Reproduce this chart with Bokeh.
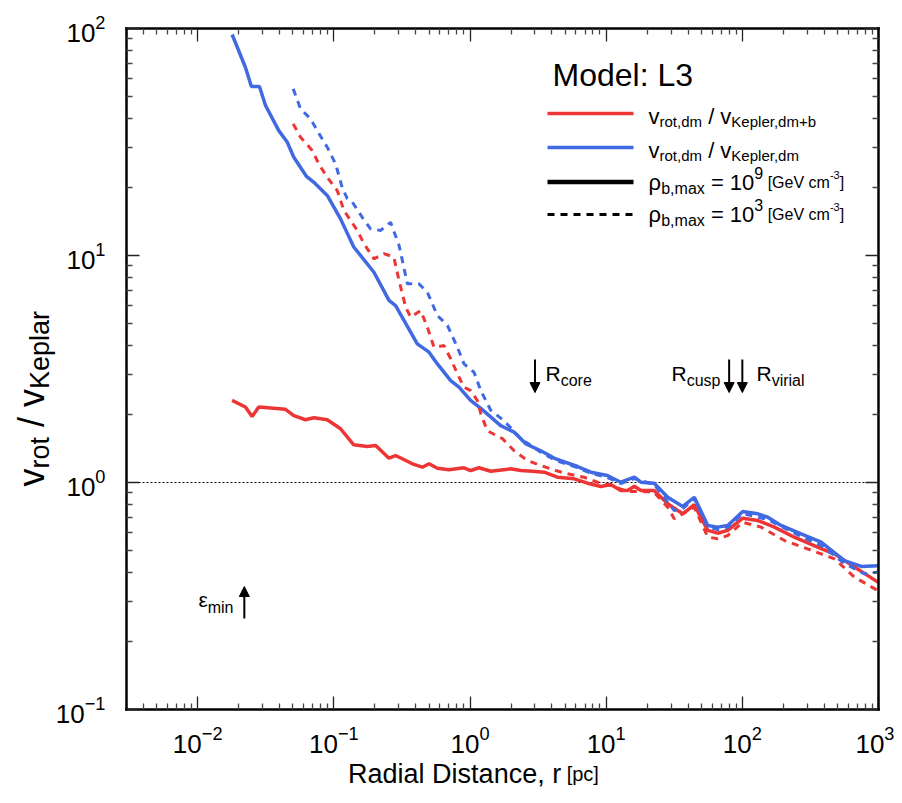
import math
from bokeh.plotting import figure
from bokeh.models import (LogAxis, FixedTicker, CustomJSTickFormatter, Label, Arrow,
                          NormalHead, Range1d)
from bokeh.embed import file_html
from bokeh.resources import INLINE

# ---------------- data ----------------
# rho_b,max = 1e9 : v_rot,dm / v_Kepler,dm  (blue solid)
r_dm_9 = [0.0179, 0.0224, 0.0248, 0.0284, 0.0315, 0.0394, 0.0454, 0.0508, 0.0630, 0.0713,
          0.0894, 0.112, 0.140, 0.197, 0.254, 0.284, 0.410, 0.500, 0.576, 0.721,
          0.830, 1.01, 1.20, 1.68, 2.11, 2.57, 3.31, 4.27, 6.16, 7.72,
          10.2, 12.8, 16.1, 18.0, 22.5, 28.3, 36.5, 44.4, 55.7, 65.9,
          78.1, 100.7, 129.8, 153.8, 192.6, 270, 379, 562, 746, 990]
v_dm_9 = [94.1, 67.5, 55.5, 55.5, 45.8, 35.5, 31.6, 27.1, 22.3, 21.0,
          18.4, 14.5, 10.9, 8.44, 6.34, 6.02, 4.08, 3.75, 3.33, 2.81,
          2.63, 2.30, 2.12, 1.78, 1.666, 1.48, 1.38, 1.27, 1.176, 1.11,
          1.073, 1.003, 1.055, 1.003, 0.993, 0.861, 0.784, 0.861, 0.647, 0.636,
          0.647, 0.745, 0.728, 0.703, 0.647, 0.594, 0.546, 0.453, 0.427, 0.430]

# rho_b,max = 1e9 : v_rot,dm / v_Kepler,dm+b  (red solid)
r_dmb_9 = [0.0179, 0.0224, 0.0251, 0.0281, 0.0441, 0.0508, 0.0619, 0.0713, 0.0894, 0.112,
           0.140, 0.176, 0.203, 0.254, 0.284, 0.377, 0.447, 0.500, 0.576, 0.701,
           0.903, 1.01, 1.165, 1.42, 1.99, 2.36, 2.88, 3.50, 4.39, 5.82,
           7.30, 9.14, 10.8, 12.8, 14.4, 16.1, 18.0, 22.5, 28.3, 36.5,
           44.4, 55.7, 65.9, 78.1, 100.7, 129.8, 172, 241, 379, 475, 666, 990]
v_dmb_9 = [2.30, 2.15, 1.953, 2.15, 2.10, 1.97, 1.89, 1.93, 1.89, 1.725,
           1.466, 1.441, 1.455, 1.28, 1.315, 1.209, 1.168, 1.209, 1.156, 1.137,
           1.161, 1.129, 1.161, 1.121, 1.149, 1.129, 1.121, 1.11, 1.055, 1.038,
           0.993, 0.960, 0.980, 0.922, 0.922, 0.963, 0.922, 0.922, 0.806, 0.728,
           0.798, 0.615, 0.598, 0.615, 0.696, 0.680, 0.636, 0.574, 0.511, 0.485, 0.424, 0.364]

# rho_b,max = 1e3 : v_rot,dm / v_Kepler,dm  (blue dashed)
r_dm_3 = [0.0503, 0.0569, 0.0674, 0.0755, 0.0894, 0.103, 0.115, 0.1255, 0.1366, 0.162,
          0.186, 0.221, 0.261, 0.301, 0.347, 0.422, 0.486, 0.576, 0.682, 0.808,
          0.903, 1.07, 1.20, 1.42, 1.77, 2.36, 3.31, 4.27, 6.16, 7.72,
          10.2, 12.8, 16.1, 22.5, 31.6, 36.5, 44.4, 55.7, 65.9, 78.1,
          100.7, 153.8, 270, 379, 562, 789, 990]
v_dm_3 = [54.2, 44.3, 40.0, 35.5, 30.0, 25.3, 20.0, 17.8, 17.2, 14.7,
          13.1, 12.9, 14.0, 11.1, 7.50, 7.50, 6.89, 5.44, 4.92, 3.94,
          3.33, 3.06, 2.54, 2.08, 1.875, 1.56, 1.36, 1.25, 1.164, 1.099,
          1.052, 0.99, 1.041, 0.98, 0.753, 0.768, 0.850, 0.634, 0.621, 0.634,
          0.730, 0.687, 0.578, 0.528, 0.440, 0.396, 0.403]

# rho_b,max = 1e3 : v_rot,dm / v_Kepler,dm+b  (red dashed)
r_dmb_3 = [0.0503, 0.0569, 0.0694, 0.0776, 0.0894, 0.106, 0.1185, 0.1486, 0.166, 0.197,
           0.233, 0.276, 0.301, 0.337, 0.366, 0.434, 0.486, 0.544, 0.644, 0.721,
           0.808, 0.903, 1.01, 1.13, 1.20, 1.34, 1.73, 2.11, 2.64, 3.31,
           4.27, 5.20, 6.89, 8.65, 10.8, 14.4, 18.0, 22.5, 28.3, 31.6,
           36.5, 44.4, 55.7, 65.9, 78.1, 100.7, 137, 204, 379, 475, 666, 990]
v_dmb_3 = [38.0, 33.2, 29.0, 25.3, 22.1, 19.3, 15.8, 12.9, 11.3, 9.67,
           10.2, 9.83, 7.76, 5.92, 5.35, 5.72, 4.83, 3.94, 4.01, 3.51,
           3.01, 2.63, 2.54, 2.30, 2.01, 1.69, 1.56, 1.38, 1.25, 1.188,
           1.129, 1.092, 1.055, 1.003, 0.97, 0.913, 0.913, 0.904, 0.778, 0.692,
           0.728, 0.778, 0.575, 0.565, 0.584, 0.668, 0.636, 0.555, 0.485, 0.461, 0.383, 0.334]

# marker radii (arrows)
R_core = 3.0
R_cusp = 80.0
R_virial = 100.0
eps_min = 0.022
arrow_down_top, arrow_down_bottom = 3.48, 2.49
arrow_up_bottom, arrow_up_top = 0.252, 0.348
ref_level = 1.0

# axis limits and ticks
XL, XR = 0.003, 1000.0
YB, YT = 0.1, 100.0
x_ticks = [1e-2, 1e-1, 1e0, 1e1, 1e2, 1e3]
y_ticks = [1e-1, 1e0, 1e1, 1e2]
x_minor = [t for t in (k * 10.0 ** d for d in range(-3, 3) for k in range(2, 10))
           if XL * 0.999 <= t <= XR]
y_minor = [t for t in (k * 10.0 ** d for d in range(-1, 2) for k in range(2, 10))
           if YB <= t <= YT]

RED = "#EE3535"
BLUE = "#4169E1"
FONT = "Liberation Sans"

# ---------------- layout (pixels) ----------------
W, H = 894, 795                 # canvas
BOX_L, BOX_R, BOX_T, BOX_B = 126, 878, 28, 709   # plot box in canvas pixels
TXT_FIX = 9                     # renderer places text ~9px below the requested baseline

pdx = (BOX_R - BOX_L) / math.log10(XR / XL)
pdy = (BOX_B - BOX_T) / math.log10(YT / YB)
x_start = XL / 10 ** (BOX_L / pdx)
x_end = XR * 10 ** ((W - BOX_R) / pdx)
y_end = YT * 10 ** (BOX_T / pdy)
y_start = YB / 10 ** ((H - BOX_B) / pdy)

p = figure(x_axis_type="log", y_axis_type="log",
           x_axis_location=None, y_axis_location=None,
           x_range=Range1d(x_start, x_end), y_range=Range1d(y_start, y_end),
           frame_width=W, frame_height=H, min_border=0,
           output_backend="svg", toolbar_location=None,
           background_fill_color="white", border_fill_color="white")
p.grid.visible = False
p.outline_line_color = None


def make_axis(ticks, minor, loc, bounds, show_labels):
    ax = LogAxis(fixed_location=loc, bounds=bounds)
    ax.ticker = FixedTicker(ticks=ticks, minor_ticks=minor)
    ax.axis_line_width = 2.5
    ax.axis_line_color = "black"
    ax.axis_line_cap = "square"
    ax.major_tick_in = 13
    ax.major_tick_out = 0
    ax.minor_tick_in = 6
    ax.minor_tick_out = 0
    ax.major_tick_line_width = 1.3
    ax.minor_tick_line_width = 1.3
    ax.major_tick_line_color = "#222222"
    ax.minor_tick_line_color = "#444444"
    if show_labels:
        ax.major_label_text_font = FONT
        ax.major_label_text_font_size = "26px"
        ax.major_label_text_color = "black"
    else:
        ax.formatter = CustomJSTickFormatter(code="return ''")
        ax.major_label_text_font_size = "1px"
    return ax


ax_b = make_axis(x_ticks, x_minor, YB, (XL, XR), True)
ax_b.major_label_standoff = 16
p.add_layout(ax_b, "below")
ax_l = make_axis(y_ticks, y_minor, XL, (YB, YT), True)
ax_l.major_label_standoff = 21
p.add_layout(ax_l, "left")
p.add_layout(make_axis(x_ticks, x_minor, YT, (XL, XR), False), "above")
p.add_layout(make_axis(y_ticks, y_minor, XR, (YB, YT), False), "right")

# reference line at 1
p.segment(x0=[XL], y0=[ref_level], x1=[XR], y1=[ref_level],
          line_color="black", line_width=1, line_dash="2 2")

# curves
p.line(r_dmb_9, v_dmb_9, line_color=RED, line_width=3.5)
p.line(r_dm_9, v_dm_9, line_color=BLUE, line_width=3.5)
p.line(r_dmb_3, v_dmb_3, line_color=RED, line_width=3, line_dash="7 6")
p.line(r_dm_3, v_dm_3, line_color=BLUE, line_width=3, line_dash="7 6")

# arrows
for xr in (R_core, R_cusp, R_virial):
    p.add_layout(Arrow(end=NormalHead(size=10, fill_color="black", line_color="black"),
                       x_start=xr, y_start=arrow_down_top, x_end=xr, y_end=arrow_down_bottom,
                       line_width=2, line_color="black"))
p.add_layout(Arrow(end=NormalHead(size=10, fill_color="black", line_color="black"),
                   x_start=eps_min, y_start=arrow_up_bottom, x_end=eps_min, y_end=arrow_up_top,
                   line_width=2, line_color="black"))

# ---------------- rich text helpers (canvas-pixel placement) ----------------
WID = {' ': 278, ',': 278, '/': 278, '+': 584, '=': 584, '-': 333, '[': 278, ']': 278,
       ':': 278, '.': 278, 'a': 556, 'b': 556, 'c': 500, 'd': 556, 'e': 556, 'i': 222,
       'l': 222, 'm': 833, 'n': 556, 'o': 556, 'p': 556, 'r': 333, 's': 500, 't': 278,
       'u': 556, 'v': 500, 'x': 500, 'y': 500, 'D': 722, 'G': 778, 'K': 667, 'L': 556,
       'M': 833, 'R': 722, 'V': 667, 'ρ': 578, 'ε': 440}


def tw(s, size):
    return sum(WID.get(c, 556) for c in s) * size / 1000.0


def rich(pieces, px, py, rotated=False):
    """px, py: canvas pixel of the baseline start (for rotated text: baseline x, start y)."""
    adv = 0.0
    for text, size, shift in pieces:
        lead = len(text) - len(text.lstrip(' '))
        body = text.strip(' ')
        off = tw(' ' * lead, size)
        if body:
            if not rotated:
                lab = Label(x=px + adv + off, y=H - (py + shift) + TXT_FIX,
                            x_units="screen", y_units="screen", text=body,
                            text_font=FONT, text_font_size=f"{size}px", text_color="black",
                            text_align="left", text_baseline="alphabetic")
            else:
                lab = Label(x=px + shift - TXT_FIX, y=H - (py - adv - off),
                            x_units="screen", y_units="screen", text=body, angle=math.pi / 2,
                            text_font=FONT, text_font_size=f"{size}px", text_color="black",
                            text_align="left", text_baseline="alphabetic")
            p.add_layout(lab)
        adv += tw(text, size)
    return adv


def seg(x0, x1, py, color, width, dash="solid"):
    p.add_layout(Arrow(end=None, x_start=x0, x_end=x1, y_start=H - py, y_end=H - py,
                       start_units="screen", end_units="screen",
                       line_color=color, line_width=width, line_dash=dash))


# legend
rich([("Model: L3", 32, 0)], 552, 83)
seg(547, 633, 113, RED, 3.5)
seg(547, 633, 147, BLUE, 3.5)
seg(547, 633, 181.5, "black", 4.5)
seg(547, 633, 214, "black", 3, "7 6")
rich([("v", 22, 0), ("rot,dm", 15, 5), (" / v", 22, 0), ("Kepler,dm+b", 15, 5)], 648, 125)
rich([("v", 22, 0), ("rot,dm", 15, 5), (" / v", 22, 0), ("Kepler,dm", 15, 5)], 648, 159)
rich([("ρ", 22, 0), ("b,max", 16, 6), (" = 10", 22, 0), ("9", 16, -9), (" [GeV cm", 16, 0),
      ("-3", 11, -7), ("]", 16, 0)], 648, 190.5)
rich([("ρ", 22, 0), ("b,max", 16, 6), (" = 10", 22, 0), ("3", 16, -9), (" [GeV cm", 16, 0),
      ("-3", 11, -7), ("]", 16, 0)], 648, 222.5)

# annotations
rich([("R", 21, 0), ("core", 16, 7)], 545, 382)
w_cusp = tw("R", 21) + tw("cusp", 16)
rich([("R", 21, 0), ("cusp", 16, 7)], 720 - w_cusp, 382)
rich([("R", 21, 0), ("virial", 16, 7)], 756, 382)
rich([("ε", 21, 0), ("min", 16, 8)], 198, 608)

# axis titles
xt = [("Radial Distance, r", 27, 0), (" [pc]", 20, 0)]
xt_w = sum(tw(t, s) for t, s, _ in xt)
rich(xt, 473 - xt_w / 2, 782)
rich([("v", 36, 0), ("rot", 27, 8), (" / v", 36, 0), ("Keplar", 27, 8)], 40, 486, rotated=True)

open("out.html", "w").write(file_html(p, INLINE))
